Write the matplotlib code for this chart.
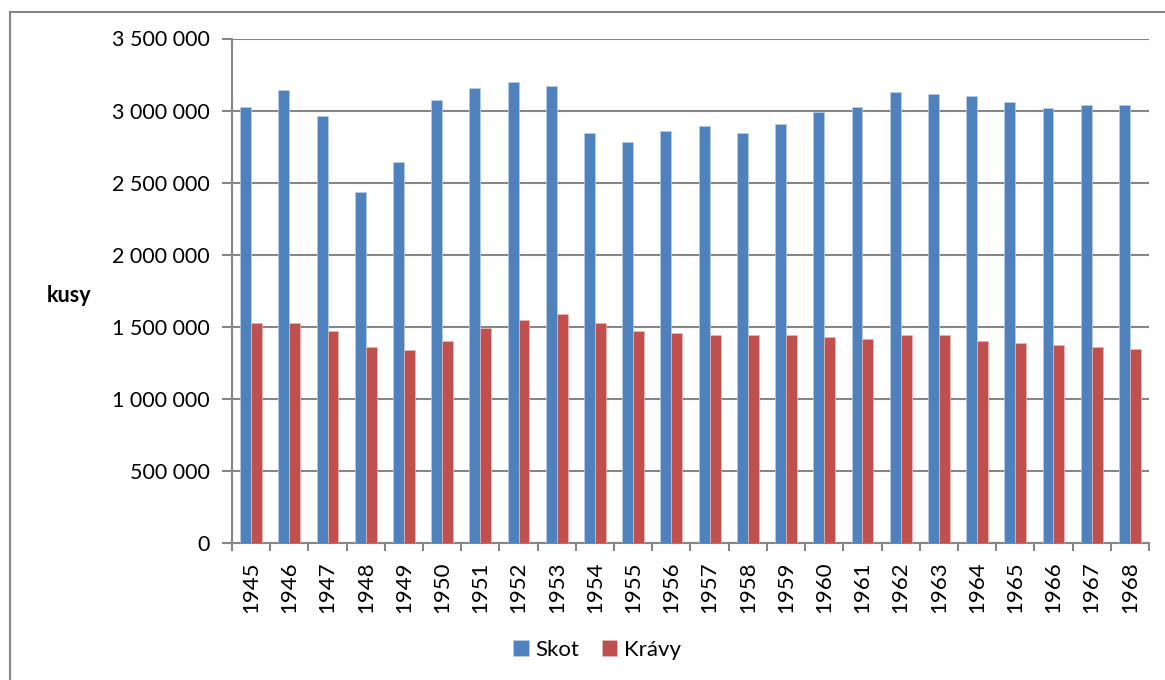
import matplotlib
matplotlib.use("Agg")
import matplotlib.pyplot as plt
from matplotlib.patches import Rectangle
from matplotlib.ticker import FuncFormatter, MultipleLocator
import numpy as np

years = [str(y) for y in range(1945, 1969)]
skot = [3028000, 3144000, 2961000, 2436000, 2646000, 3076000, 3157000, 3197000,
        3171000, 2843000, 2783000, 2857000, 2894000, 2843000, 2908000, 2989000,
        3028000, 3130000, 3116000, 3104000, 3062000, 3017000, 3042000, 3042000]
kravy = [1523000, 1523000, 1468000, 1362000, 1339000, 1402000, 1494000, 1548000,
         1589000, 1523000, 1468000, 1455000, 1443000, 1443000, 1443000, 1430000,
         1416000, 1443000, 1443000, 1402000, 1388000, 1374000, 1362000, 1348000]
series_names = ["Skot", "Krávy"]
y_label = "kusy"

plt.rcParams['font.family'] = ['Lato', 'DejaVu Sans']

W, H = 1165, 680
fig = plt.figure(figsize=(W / 100, H / 100), dpi=100)
ax = fig.add_axes([232 / W, 1 - 543 / H, (1149 - 232) / W, (543 - 38.5) / H])

grey = "#868686"
blue = "#4F81BD"
red = "#C0504D"

x = np.arange(len(years))
bw = 1 / 3.5
ax.bar(x - bw / 2, skot, width=bw, color=blue, edgecolor="#B9CDE5", linewidth=0.5, zorder=3, label=series_names[0])
ax.bar(x + bw / 2, kravy, width=bw, color=red, edgecolor="#E6B9B8", linewidth=0.5, zorder=3, label=series_names[1])

ax.set_xlim(-0.5, len(years) - 0.5)
ax.set_ylim(0, 3500000)
ax.yaxis.set_major_locator(MultipleLocator(500000))
ax.yaxis.set_major_formatter(FuncFormatter(lambda v, p: format(int(v), ',').replace(',', ' ')))
ax.grid(axis='y', color=grey, linewidth=1.5, zorder=0)
ax.set_axisbelow(True)

ax.set_xticks(x)
ax.set_xticklabels(years, rotation=90, fontsize=16)
ax.set_xticks(np.arange(-0.5, len(years)), minor=True)
ax.tick_params(axis='x', which='major', length=0, pad=13)
ax.tick_params(axis='x', which='minor', length=6, color=grey, width=1.5, direction='out')
ax.tick_params(axis='y', length=7, color=grey, width=1.5, labelsize=15.5, pad=9)

for s in ['top', 'right']:
    ax.spines[s].set_visible(False)
for s in ['left', 'bottom']:
    ax.spines[s].set_color(grey)
    ax.spines[s].set_linewidth(1.5)

fig.text(69 / W, 1 - 296 / H, y_label, fontsize=15.5, fontweight='bold', ha='center', va='center')

leg = fig.legend(loc='center', bbox_to_anchor=(597 / W, 1 - 650 / H), ncol=2, frameon=False,
                 fontsize=16, handlelength=0.7, handleheight=0.7, handletextpad=0.3, columnspacing=1.0)

fig.patches.append(Rectangle((10 / W, -0.05), 1.0, 1 - 12 / H + 0.05, transform=fig.transFigure,
                             fill=False, edgecolor=grey, linewidth=1.5, zorder=-1))

fig.savefig("out.png", dpi=100, facecolor="white")
